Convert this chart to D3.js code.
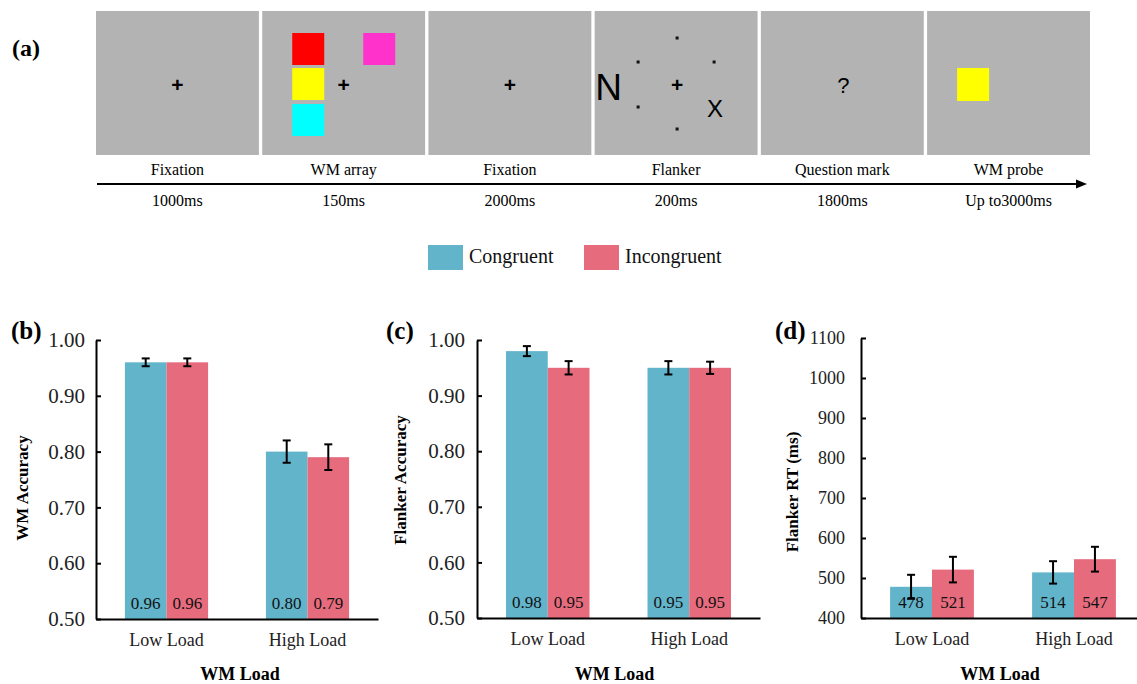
<!DOCTYPE html>
<html>
<head>
<meta charset="utf-8">
<script src="https://cdn.jsdelivr.net/npm/d3@7"></script>
<style>
  body { margin: 0; background: #fff; }
  svg { display: block; }
</style>
</head>
<body>
<div id="main"></div>
<script>
// ---- data ----
var stageNames = ["Fixation", "WM array", "Fixation", "Flanker", "Question mark", "WM probe"];
var stageDurations = ["1000ms", "150ms", "2000ms", "200ms", "1800ms", "Up to3000ms"];

var loads = ["Low Load", "High Load"];
var conditions = ["Congruent", "Incongruent"];

var wmAccCongruent = [0.96, 0.80];
var wmAccIncongruent = [0.96, 0.79];
var wmAccErrCongruent = [0.007, 0.02];
var wmAccErrIncongruent = [0.007, 0.023];

var flAccCongruent = [0.98, 0.95];
var flAccIncongruent = [0.95, 0.95];
var flAccErrCongruent = [0.009, 0.012];
var flAccErrIncongruent = [0.012, 0.011];

var rtCongruent = [478, 514];
var rtIncongruent = [521, 547];
var rtErrCongruent = [30, 28];
var rtErrIncongruent = [32, 31];

var accTicks = [0.5, 0.6, 0.7, 0.8, 0.9, 1.0];
var rtTicks = [400, 500, 600, 700, 800, 900, 1000, 1100];

var ctx = {
    w: 1137,
    h: 684,
    SERIF: "'Liberation Serif', 'Times New Roman', serif",
    SANS: "'Liberation Sans', Arial, sans-serif",
    COLORS: {Congruent: "#62b4cb", Incongruent: "#e66b7d"},
    GRAY: "#b3b3b3",
};

var svg = d3.select("#main").append("svg")
    .attr("width", ctx.w)
    .attr("height", ctx.h);

// ---- panel (a): trial sequence ----
var drawSequence = function(){
    var g = svg.append("g");
    var xBox = d3.scaleBand().domain(d3.range(stageNames.length))
        .range([96, 1090]).paddingInner(0.02);
    var boxTop = 11, boxH = 144;
    var bw = xBox.bandwidth();

    g.selectAll("rect.box")
        .data(stageNames)
        .enter().append("rect")
        .attr("class", "box")
        .attr("x", function(d, i){ return xBox(i); })
        .attr("y", boxTop)
        .attr("width", bw)
        .attr("height", boxH)
        .attr("fill", ctx.GRAY);

    var cx = function(i){ return xBox(i) + bw/2; };
    var cy = boxTop + boxH/2 + 2;

    // fixation crosses
    [0, 1, 2, 3].forEach(function(i){
        g.append("text")
            .attr("x", cx(i) + (i === 3 ? 1 : 0))
            .attr("y", cy)
            .attr("dy", "0.34em")
            .attr("text-anchor", "middle")
            .style("font-family", ctx.SANS)
            .style("font-weight", "bold")
            .style("font-size", "21px")
            .text("+");
    });

    // WM array squares
    var sq = [
        {dx: 30, y: 33, c: "#ff0000"},
        {dx: 101, y: 33, c: "#ff33cc"},
        {dx: 30, y: 68, c: "#ffff00"},
        {dx: 30, y: 104, c: "#00ffff"}
    ];
    g.selectAll("rect.sq")
        .data(sq)
        .enter().append("rect")
        .attr("x", function(d){ return xBox(1) + d.dx; })
        .attr("y", function(d){ return d.y; })
        .attr("width", 32)
        .attr("height", 32)
        .attr("fill", function(d){ return d.c; });

    // flanker display
    g.append("text")
        .attr("x", xBox(3) + 0.5)
        .attr("y", 100)
        .style("font-family", ctx.SANS)
        .style("font-size", "37px")
        .text("N");
    g.append("text")
        .attr("x", cx(3) + 39)
        .attr("y", 117)
        .attr("text-anchor", "middle")
        .style("font-family", ctx.SANS)
        .style("font-size", "24px")
        .text("X");
    var dots = [[0, -46], [-39, -22], [37, -22], [-39, 23], [37, 23], [0, 45]];
    g.selectAll("rect.dot")
        .data(dots)
        .enter().append("rect")
        .attr("x", function(d){ return cx(3) + 1 + d[0] - 1.5; })
        .attr("y", function(d){ return 84 + d[1] - 1.5; })
        .attr("width", 3)
        .attr("height", 3)
        .attr("fill", "#111");

    // question mark
    g.append("text")
        .attr("x", cx(4) + 1)
        .attr("y", 93)
        .attr("text-anchor", "middle")
        .style("font-family", ctx.SANS)
        .style("font-size", "22px")
        .text("?");

    // WM probe
    g.append("rect")
        .attr("x", xBox(5) + 30)
        .attr("y", 68)
        .attr("width", 32)
        .attr("height", 33)
        .attr("fill", "#ffff00");

    // stage names and durations
    g.selectAll("text.name")
        .data(stageNames)
        .enter().append("text")
        .attr("x", function(d, i){ return cx(i); })
        .attr("y", 175)
        .attr("text-anchor", "middle")
        .style("font-family", ctx.SERIF)
        .style("font-size", "16px")
        .text(function(d){ return d; });
    g.selectAll("text.dur")
        .data(stageDurations)
        .enter().append("text")
        .attr("x", function(d, i){ return cx(i); })
        .attr("y", 206)
        .attr("text-anchor", "middle")
        .style("font-family", ctx.SERIF)
        .style("font-size", "16px")
        .text(function(d){ return d; });

    // time arrow
    g.append("line")
        .attr("x1", 97).attr("y1", 184)
        .attr("x2", 1078).attr("y2", 184)
        .attr("stroke", "#000")
        .attr("stroke-width", 2);
    g.append("path")
        .attr("d", "M1076,179.5L1087,184L1076,188.5Z")
        .attr("fill", "#000");

    // panel letter
    g.append("text")
        .attr("x", 12).attr("y", 56)
        .style("font-family", ctx.SERIF)
        .style("font-weight", "bold")
        .style("font-size", "24px")
        .text("(a)");
};

// ---- legend ----
var drawLegend = function(){
    var lx = [428, 584];
    var g = svg.append("g");
    conditions.forEach(function(c, i){
        g.append("rect")
            .attr("x", lx[i]).attr("y", 245)
            .attr("width", 35).attr("height", 25)
            .attr("fill", ctx.COLORS[c]);
        g.append("text")
            .attr("x", lx[i] + 41).attr("y", 263)
            .style("font-family", ctx.SERIF)
            .style("font-size", "20px")
            .attr("fill", "#111")
            .text(c);
    });
};

// ---- bar panels ----
var drawBarPanel = function(o){
    var g = svg.append("g");
    var x0 = d3.scaleBand().domain(loads).range([o.left, o.right]);
    var y = d3.scaleLinear().domain(o.domain).range([o.bottom, o.top]);
    var groupW = x0.bandwidth() * 0.59;
    var x1 = d3.scaleBand().domain(conditions).range([-groupW/2, groupW/2]);

    var rows = [];
    loads.forEach(function(l, i){
        rows.push({load: l, cond: "Congruent", v: o.cong[i], e: o.congErr[i]});
        rows.push({load: l, cond: "Incongruent", v: o.incong[i], e: o.incongErr[i]});
    });
    var bx = function(d){ return x0(d.load) + x0.bandwidth()/2 + x1(d.cond); };

    g.selectAll("rect.bar")
        .data(rows)
        .enter().append("rect")
        .attr("x", bx)
        .attr("y", function(d){ return y(d.v); })
        .attr("width", x1.bandwidth())
        .attr("height", function(d){ return y(o.domain[0]) - y(d.v); })
        .attr("fill", function(d){ return ctx.COLORS[d.cond]; });

    g.selectAll("text.val")
        .data(rows)
        .enter().append("text")
        .attr("x", function(d){ return bx(d) + x1.bandwidth()/2; })
        .attr("y", o.bottom - 10)
        .attr("text-anchor", "middle")
        .style("font-family", ctx.SERIF)
        .style("font-size", "17px")
        .attr("fill", "#111")
        .text(function(d){ return o.fmt(d.v); });

    // error bars
    var eb = g.selectAll("g.err").data(rows).enter().append("g")
        .attr("stroke", "#000").attr("stroke-width", 2);
    eb.append("line")
        .attr("x1", function(d){ return bx(d) + x1.bandwidth()/2; })
        .attr("x2", function(d){ return bx(d) + x1.bandwidth()/2; })
        .attr("y1", function(d){ return y(d.v + d.e); })
        .attr("y2", function(d){ return y(d.v - d.e); });
    [1, -1].forEach(function(s){
        eb.append("line")
            .attr("x1", function(d){ return bx(d) + x1.bandwidth()/2 - 4; })
            .attr("x2", function(d){ return bx(d) + x1.bandwidth()/2 + 4; })
            .attr("y1", function(d){ return y(d.v + s*d.e); })
            .attr("y2", function(d){ return y(d.v + s*d.e); });
    });

    // y axis, ticks pointing inward
    var ya = g.append("g")
        .attr("transform", "translate(" + o.left + ",0)")
        .call(d3.axisLeft(y).tickValues(o.ticks).tickSizeInner(-5).tickSizeOuter(0)
            .tickPadding(o.tickPad).tickFormat(o.fmt));
    ya.select(".domain").attr("stroke-width", 2);
    ya.selectAll(".tick line").attr("stroke-width", 2);
    ya.selectAll("text")
        .style("font-family", ctx.SERIF)
        .style("font-size", o.tickFont)
        .attr("fill", "#222");

    // x axis
    var xa = g.append("g")
        .attr("transform", "translate(0," + o.bottom + ")")
        .call(d3.axisBottom(x0).tickSize(0).tickSizeOuter(0));
    xa.select(".domain").attr("stroke-width", 2);
    xa.selectAll("text")
        .attr("dy", null)
        .attr("y", 27)
        .style("font-family", ctx.SERIF)
        .style("font-size", "18px")
        .attr("fill", "#222");

    // axis titles
    g.append("text")
        .attr("x", (o.left + o.right)/2 + o.xTitleShift)
        .attr("y", 680)
        .attr("text-anchor", "middle")
        .style("font-family", ctx.SERIF)
        .style("font-weight", "bold")
        .style("font-size", "18px")
        .text("WM Load");
    g.append("text")
        .attr("transform", "translate(" + o.titleX + "," + o.titleY + ") rotate(-90)")
        .attr("text-anchor", "middle")
        .style("font-family", ctx.SERIF)
        .style("font-weight", "bold")
        .style("font-size", "17px")
        .text(o.title);

    // panel letter
    g.append("text")
        .attr("x", o.letterX).attr("y", 339)
        .style("font-family", ctx.SERIF)
        .style("font-weight", "bold")
        .style("font-size", "25px")
        .text(o.letter);
};

var fmt2 = d3.format(".2f");
var fmt0 = d3.format("d");

drawSequence();
drawLegend();

drawBarPanel({
    left: 96, right: 378, top: 340, bottom: 619,
    domain: [0.5, 1.0], ticks: accTicks, fmt: fmt2, tickPad: 11, tickFont: "21px",
    cong: wmAccCongruent, incong: wmAccIncongruent,
    congErr: wmAccErrCongruent, incongErr: wmAccErrIncongruent,
    title: "WM Accuracy", titleX: 28, titleY: 488, letter: "(b)", letterX: 11,
    xTitleShift: 3
});
drawBarPanel({
    left: 477, right: 760, top: 340, bottom: 618,
    domain: [0.5, 1.0], ticks: accTicks, fmt: fmt2, tickPad: 12, tickFont: "21px",
    cong: flAccCongruent, incong: flAccIncongruent,
    congErr: flAccErrCongruent, incongErr: flAccErrIncongruent,
    title: "Flanker Accuracy", titleX: 406, titleY: 480, letter: "(c)", letterX: 386,
    xTitleShift: -4
});
drawBarPanel({
    left: 861, right: 1145, top: 338, bottom: 618,
    domain: [400, 1100], ticks: rtTicks, fmt: fmt0, tickPad: 16, tickFont: "18px",
    cong: rtCongruent, incong: rtIncongruent,
    congErr: rtErrCongruent, incongErr: rtErrIncongruent,
    title: "Flanker RT (ms)", titleX: 798, titleY: 492, letter: "(d)", letterX: 775,
    xTitleShift: -3
});
</script>
</body>
</html>
